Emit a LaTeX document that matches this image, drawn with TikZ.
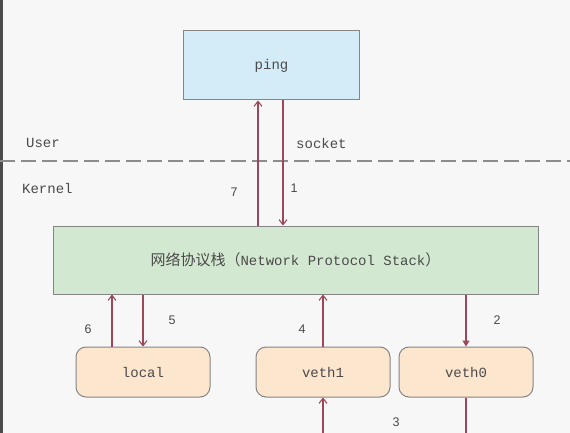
\documentclass[tikz,border=0pt]{standalone}
\usepackage{fontspec}
\setmonofont{Liberation Mono}
\newfontfamily\cjk{Noto Sans CJK SC}
\newfontfamily\numfont{Liberation Sans}
\usetikzlibrary{arrows.meta}
\definecolor{bgc}{HTML}{F7F7F7}
\definecolor{pingblue}{HTML}{D3ECF8}
\definecolor{stackgreen}{HTML}{D3E8D1}
\definecolor{peach}{HTML}{FDE6CE}
\definecolor{boxline}{HTML}{858585}
\definecolor{arrc}{HTML}{9C4858}
\definecolor{txt}{HTML}{4A4A4A}
\tikzset{
  box/.style={draw=boxline, line width=1pt, text=txt, font=\ttfamily\fontsize{14}{16}\selectfont, inner sep=0pt},
  ifbox/.style={box, fill=peach, rounded corners=10pt, minimum width=134pt, minimum height=50pt},
  arr/.style={draw=arrc, line width=1.1pt, -{Straight Barb[length=5pt,width=8pt]}},
  arrf/.style={draw=arrc, line width=1.1pt, -{Triangle[length=6pt,width=7pt]}},
  lab/.style={text=txt, font=\ttfamily\fontsize{14}{16}\selectfont, anchor=west, inner sep=0pt},
  num/.style={text=txt, font=\numfont\fontsize{12.5}{14}\selectfont, inner sep=0pt}
}
\begin{document}
\begin{tikzpicture}[x=1pt,y=-1pt]
\fill[bgc] (0,0) rectangle (570,433);
\useasboundingbox (0,0) rectangle (570,433);
\fill[black!70] (0,0) rectangle (2.5,433);
% dashed separator
\coordinate (dl) at (0,161);
\coordinate (dr) at (570,161);
\draw[draw=black!45, line width=1.1pt, dash pattern=on 15pt off 6pt] (dl) -- (dr);
% nodes
\node[box, fill=pingblue, minimum width=176pt, minimum height=69pt] (ping) at (271.5,65.5) {ping};
\node[box, fill=stackgreen, minimum width=485pt, minimum height=68pt] (stack) at (295.5,260) {{\cjk\fontsize{15}{17}\selectfont 网络协议栈（}Network Protocol Stack{\cjk\fontsize{15}{17}\selectfont ）}};
\node[ifbox] (local) at (143,372) {local};
\node[ifbox] (veth1) at (323,372) {veth1};
\node[ifbox] (veth0) at (466,372) {veth0};
% labels
\node[lab] (user) at (26,143) {User};
\node[lab] (sock) at (296,143) {socket};
\node[lab] (kern) at (22,188) {Kernel};
\node[num] (n7) at (234,192) {7};
\node[num] (n1) at (294,188) {1};
\node[num] (n6) at (88,329) {6};
\node[num] (n5) at (172,320) {5};
\node[num] (n4) at (302,329) {4};
\node[num] (n2) at (497,320) {2};
\node[num] (n3) at (396,422) {3};
% connectors
\draw[arr] ([xshift=-13.5pt]ping.south |- stack.north) -- ([xshift=-13.5pt]ping.south);
\draw[arr] ([xshift=11.5pt]ping.south) -- ([xshift=11.5pt]ping.south |- stack.north);
\draw[arr] ([xshift=-31pt]local.north) -- ([xshift=-31pt]local.north |- stack.south);
\draw[arr] (local.north |- stack.south) -- (local.north);
\draw[arr] (veth1.north) -- (veth1.north |- stack.south);
\draw[arrf] (veth0.north |- stack.south) -- (veth0.north);
\coordinate (b3) at (323,433);
\coordinate (b0) at (466,433);
\draw[arr] (b3) -- (veth1.south);
\draw[draw=arrc, line width=1.1pt] (veth0.south) -- (b0);
\end{tikzpicture}
\end{document}
